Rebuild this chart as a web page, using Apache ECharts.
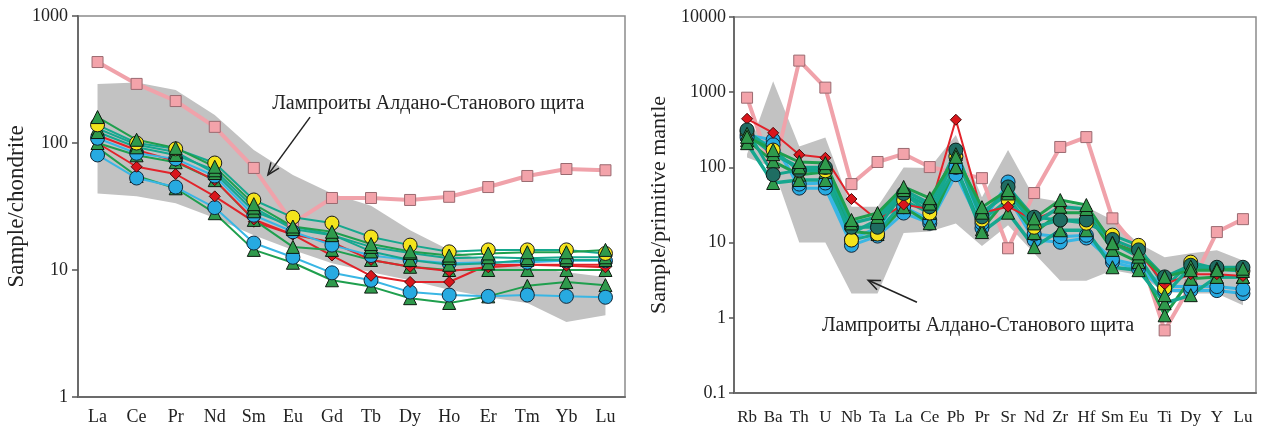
<!DOCTYPE html>
<html>
<head>
<meta charset="utf-8">
<script src="https://cdn.jsdelivr.net/npm/echarts/dist/echarts.min.js"></script>
<style>
  html, body { margin: 0; padding: 0; background: #fff; }
  #chart { width: 1272px; height: 428px; }
</style>
</head>
<body>
<div id="chart"></div>
<script>
// ---- REE, chondrite-normalised (left panel) ----
const reeLabels = ['La', 'Ce', 'Pr', 'Nd', 'Sm', 'Eu', 'Gd', 'Tb', 'Dy', 'Ho', 'Er', 'Tm', 'Yb', 'Lu'];
const reeTicks = [1, 10, 100, 1000];

const reeFieldUpper = [292, 300, 261, 166, 88, 56, 40, 32, 20.6, 14.4, 11.6, 10.4, 9.6, 8.8];
const reeFieldLower = [40, 38, 33.6, 25.7, 18.8, 14.4, 11.3, 9.6, 8.3, 7.0, 6.1, 5.5, 3.9, 4.4];

const reePink   = [434, 292, 214, 134, 63.6, 23.4, 36.9, 36.9, 35.6, 37.7, 45, 55, 62.4, 61];
const reeYellow = [139, 100, 90, 69.6, 35.6, 26, 23.4, 18.2, 15.7, 13.9, 14.4, 14.4, 14.4, 13.5];
const reeGreenA = [160, 106, 91.5, 65, 33, 22, 20, 16, 14, 13, 13.5, 13.8, 13.8, 14.4];
const reeGreenB = [122, 92.5, 80.5, 61, 31, 21, 18.8, 15.2, 13.6, 12.4, 12.6, 12.4, 12.6, 12.6];
const reeGreenE = [130, 97, 85, 58, 29, 22, 19, 14, 12, 11, 11.3, 12, 12, 12];
const reeBlueA  = [109, 83, 75, 55, 27, 20, 15.7, 13, 12, 11.3, 11.5, 11.5, 11.8, 11.8];
const reeRedA   = [115, 88, 72, 51, 25, 19, 16.5, 12, 10.6, 9.8, 10.5, 11, 10.8, 10.5];
const reeGreenC = [100, 80, 70.6, 51, 24.8, 15.2, 14.4, 12, 10.6, 10, 10, 10, 10, 10];
const reeRedB   = [100, 65, 57, 38, 24, 19, 13, 9, 8.05, 8.05, 11, 11, 11, 11];
const reeBlueB  = [80.5, 53, 45, 31, 16.3, 12.6, 9.5, 8.3, 6.7, 6.35, 6.2, 6.35, 6.2, 6.1];
const reeGreenD = [92, 55, 44, 28, 14.4, 11.4, 8.3, 7.4, 6.0, 5.5, 6.2, 7.5, 8.05, 7.6];

// ---- Trace elements, primitive-mantle-normalised (right panel) ----
const pmLabels = ['Rb', 'Ba', 'Th', 'U', 'Nb', 'Ta', 'La', 'Ce', 'Pb', 'Pr', 'Sr', 'Nd', 'Zr', 'Hf', 'Sm', 'Eu', 'Ti', 'Dy', 'Y', 'Lu'];
const pmTicks = [0.1, 1, 10, 100, 1000, 10000];

const pmFieldUpper = [150, 1400, 190, 250, 30, 30, 100, 98, 270, 40, 170, 40, 35, 30, 20, 9.8, 6.4, 7.2, 7.9, 5.8];
const pmFieldLower = [135, 100, 10, 10, 2.1, 2.1, 13.4, 14, 18, 9, 17, 7.2, 3.1, 3.1, 4.3, 3.7, 2.2, 2.1, 2.1, 1.47];

const pmPink   = [845, 82, 2630, 1150, 60, 118, 151, 101, 85, 72, 8.4, 45.6, 187, 253, 21, 7.9, 0.68, 2.7, 13.8, 20.5];
const pmRed    = [443, 288, 147, 134, 38, 20, 32, 28, 430, 25, 30, 20, 28.8, 28, 10, 7.5, 2.8, 3.8, 3.8, 3.6];
const pmTeal   = [315, 80, 92, 100, 16, 16, 45, 30, 170, 22, 55, 21.8, 20, 20, 11, 8, 3.5, 5, 4.7, 4.7];
const pmYellow = [300, 170, 90, 90, 10.8, 13, 36.8, 24.7, 140, 20, 37, 16, 20, 18.1, 12.6, 9.2, 2.5, 5.5, 4.5, 4.2];
const pmBlueA  = [270, 232, 53, 53, 9.2, 12.2, 24.7, 18.1, 80, 15.6, 40, 10.8, 10.1, 11.5, 5.5, 4.5, 2.3, 2.3, 2.3, 2.1];
const pmBlueB  = [250, 200, 60, 62, 11, 16, 30, 20, 100, 18, 64, 13, 12, 12.5, 6, 5, 2.6, 2.6, 2.6, 2.4];
const pmGreenA = [255, 170, 118, 114, 20, 24.7, 55, 39, 138, 29.6, 50, 21, 36.8, 31.6, 9.8, 7.2, 3.5, 4.3, 4.3, 4.5];
const pmGreenB = [210, 62, 68, 68, 13.4, 20, 45.6, 24.7, 101, 13.8, 25, 8.7, 14.6, 14.6, 4.7, 4.3, 1.56, 2.0, 3.5, 3.5];
const pmGreenC = [230, 120, 80, 87, 14, 13, 29.6, 18.1, 101, 15, 40, 13.4, 25, 25, 8, 5.5, 1.08, 3.3, 3.5, 3.5];
const pmGreenD = [280, 150, 100, 100, 18, 22, 50, 33, 150, 25, 45, 18, 30, 28, 10, 6.5, 2.0, 4.8, 4.5, 4.2];

const fieldName = 'Лампроиты Алдано-Станового щита';

// marker / line styles
const STYLE = {
  pink:   { symbol: 'rect', size: 11, fill: '#f3a3aa', stroke: '#9a6a70', line: '#f0a2aa', width: 4 },
  red:    { symbol: 'diamond', size: 11, fill: '#d9161c', stroke: '#4a0a0a', line: '#e2232a', width: 2 },
  yellow: { symbol: 'circle', size: 14, fill: '#f4e41c', stroke: '#1a1a1a', line: '#16a88e', width: 2 },
  blue:   { symbol: 'circle', size: 14, fill: '#27aae1', stroke: '#12283a', line: '#39b6e4', width: 2 },
  teal:   { symbol: 'circle', size: 14, fill: '#1f6d62', stroke: '#0d1f1d', line: '#14a48c', width: 2 },
  green:  { symbol: 'triangle', size: 13, fill: '#2f9a4c', stroke: '#0e1a10', line: '#1f9f4e', width: 2 },
  greenT: { symbol: 'triangle', size: 13, fill: '#2f9a4c', stroke: '#0e1a10', line: '#16a78f', width: 2 }
};

const FONT = 'Liberation Serif';

function lineSeries(name, data, st, axisIdx, widthBoost) {
  return {
    name: name,
    type: 'line',
    xAxisIndex: axisIdx,
    yAxisIndex: axisIdx,
    data: data,
    symbol: st.symbol,
    symbolSize: st.size,
    z: 3,
    lineStyle: { color: st.line, width: st.width + (widthBoost || 0) },
    itemStyle: { color: st.fill, borderColor: st.stroke, borderWidth: 1 },
    emphasis: { disabled: true },
    animation: false
  };
}

function fieldSeries(upper, lower, axisIdx) {
  return {
    type: 'custom',
    xAxisIndex: axisIdx,
    yAxisIndex: axisIdx,
    data: [[0, upper[0]]],
    encode: { x: 0, y: 1 },
    z: 1,
    silent: true,
    animation: false,
    renderItem: function (params, api) {
      const pts = [];
      for (let i = 0; i < upper.length; i++) pts.push(api.coord([i, upper[i]]));
      for (let i = lower.length - 1; i >= 0; i--) pts.push(api.coord([i, lower[i]]));
      return { type: 'polygon', shape: { points: pts }, style: { fill: '#c2c2c2' } };
    }
  };
}

function fmtLog(v) {
  return String(+Number(v).toPrecision(3));
}

const axisLineStyle = { color: '#6b6b6b', width: 2 };

const option = {
  backgroundColor: '#ffffff',
  textStyle: { fontFamily: FONT },
  grid: [
    { left: 78, top: 16, width: 547, height: 381, show: true, borderColor: '#8c8c8c', borderWidth: 1.5, backgroundColor: 'transparent' },
    { left: 734, top: 17, width: 522, height: 376, show: true, borderColor: '#8c8c8c', borderWidth: 1.5, backgroundColor: 'transparent' }
  ],
  xAxis: [
    {
      type: 'category', gridIndex: 0, data: reeLabels, boundaryGap: true,
      axisLine: { lineStyle: axisLineStyle },
      axisTick: { inside: true, alignWithLabel: true, length: 6, lineStyle: { color: '#555', width: 1.5 } },
      axisLabel: { fontFamily: FONT, fontSize: 18, color: '#222', margin: 11, interval: 0 }
    },
    {
      type: 'category', gridIndex: 1, data: pmLabels, boundaryGap: true,
      axisLine: { lineStyle: axisLineStyle },
      axisTick: { inside: true, alignWithLabel: false, interval: 0, length: 6, lineStyle: { color: '#555', width: 1.5 } },
      axisLabel: { fontFamily: FONT, fontSize: 17, color: '#222', margin: 16, interval: 0 }
    }
  ],
  yAxis: [
    {
      type: 'log', gridIndex: 0, logBase: 10, min: reeTicks[0], max: reeTicks[reeTicks.length - 1],
      splitNumber: 3,
      name: 'Sample/chondrite', nameLocation: 'middle', nameGap: 46,
      nameTextStyle: { fontFamily: FONT, fontSize: 23, color: '#222' },
      axisLine: { show: true, lineStyle: axisLineStyle },
      axisTick: { show: true, inside: false, length: 6, lineStyle: { color: '#555', width: 1.5 } },
      axisLabel: { fontFamily: FONT, fontSize: 18, color: '#222', margin: 10, formatter: fmtLog },
      splitLine: { show: false }
    },
    {
      type: 'log', gridIndex: 1, logBase: 10, min: pmTicks[0], max: pmTicks[pmTicks.length - 1],
      splitNumber: 5,
      name: 'Sample/primitive mantle', nameLocation: 'middle', nameGap: 64,
      nameTextStyle: { fontFamily: FONT, fontSize: 22, color: '#222' },
      axisLine: { show: true, lineStyle: axisLineStyle },
      axisTick: { show: true, inside: false, length: 5, lineStyle: { color: '#555', width: 1.5 } },
      axisLabel: { fontFamily: FONT, fontSize: 18, color: '#222', margin: 8, formatter: fmtLog },
      splitLine: { show: false }
    }
  ],
  series: [
    fieldSeries(reeFieldUpper, reeFieldLower, 0),
    lineSeries('reePink', reePink, STYLE.pink, 0),
    lineSeries('reeGreenD', reeGreenD, STYLE.green, 0),
    lineSeries('reeBlueB', reeBlueB, STYLE.blue, 0),
    lineSeries('reeRedB', reeRedB, STYLE.red, 0),
    lineSeries('reeGreenC', reeGreenC, STYLE.green, 0),
    lineSeries('reeRedA', reeRedA, STYLE.red, 0),
    lineSeries('reeBlueA', reeBlueA, STYLE.blue, 0),
    lineSeries('reeGreenE', reeGreenE, STYLE.greenT, 0),
    lineSeries('reeGreenB', reeGreenB, STYLE.greenT, 0),
    lineSeries('reeYellow', reeYellow, STYLE.yellow, 0),
    lineSeries('reeGreenA', reeGreenA, STYLE.green, 0),

    fieldSeries(pmFieldUpper, pmFieldLower, 1),
    lineSeries('pmPink', pmPink, STYLE.pink, 1),
    lineSeries('pmBlueA', pmBlueA, STYLE.blue, 1, 1),
    lineSeries('pmBlueB', pmBlueB, STYLE.blue, 1, 1),
    lineSeries('pmGreenC', pmGreenC, STYLE.green, 1, 1),
    lineSeries('pmGreenB', pmGreenB, STYLE.greenT, 1, 1.5),
    lineSeries('pmYellow', pmYellow, STYLE.yellow, 1, 1),
    lineSeries('pmRed', pmRed, STYLE.red, 1),
    lineSeries('pmTeal', pmTeal, STYLE.teal, 1, 1),
    lineSeries('pmGreenD', pmGreenD, STYLE.greenT, 1, 1.5),
    lineSeries('pmGreenA', pmGreenA, STYLE.green, 1, 1)
  ]
};

const chart = echarts.init(document.getElementById('chart'), null, { renderer: 'canvas' });
chart.setOption(option);

// Pixel position of a (fractional category index, value) pair in a panel
function toPx(gridIndex, idx, value) {
  const i0 = Math.floor(idx), f = idx - i0;
  const a = chart.convertToPixel({ gridIndex: gridIndex }, [i0, value]);
  const b = chart.convertToPixel({ gridIndex: gridIndex }, [i0 + 1, value]);
  return [a[0] + (b[0] - a[0]) * f, a[1]];
}

// Pointer arrow: shaft plus open arrowhead
function arrow(from, to) {
  const dx = to[0] - from[0], dy = to[1] - from[1];
  const len = Math.sqrt(dx * dx + dy * dy);
  const ux = dx / len, uy = dy / len;
  const hl = 12, hw = 5;
  const bx = to[0] - ux * hl, by = to[1] - uy * hl;
  return [
    { type: 'line', shape: { x1: from[0], y1: from[1], x2: to[0] - ux * 2, y2: to[1] - uy * 2 }, style: { stroke: '#222', lineWidth: 1.5 }, z: 20 },
    { type: 'polyline', shape: { points: [[bx - uy * hw, by + ux * hw], to, [bx + uy * hw, by - ux * hw]] }, style: { stroke: '#222', lineWidth: 1.5, fill: null }, z: 20 }
  ];
}

const leftText = toPx(0, 4.47, 203);
const leftTail = toPx(0, 5.44, 160);
const leftHead = toPx(0, 4.36, 56);
const rightText = toPx(1, 2.87, 0.79);
const rightTail = toPx(1, 6.51, 1.61);
const rightHead = toPx(1, 4.64, 3.16);

chart.setOption({
  graphic: [
    { type: 'text', x: leftText[0], y: leftText[1], z: 20,
      style: { text: fieldName, fontFamily: FONT, fontSize: 20, fill: '#222', verticalAlign: 'middle' } },
    { type: 'text', x: rightText[0], y: rightText[1], z: 20,
      style: { text: fieldName, fontFamily: FONT, fontSize: 20, fill: '#222', verticalAlign: 'middle' } }
  ].concat(arrow(leftTail, leftHead)).concat(arrow(rightTail, rightHead))
});
</script>
</body>
</html>
